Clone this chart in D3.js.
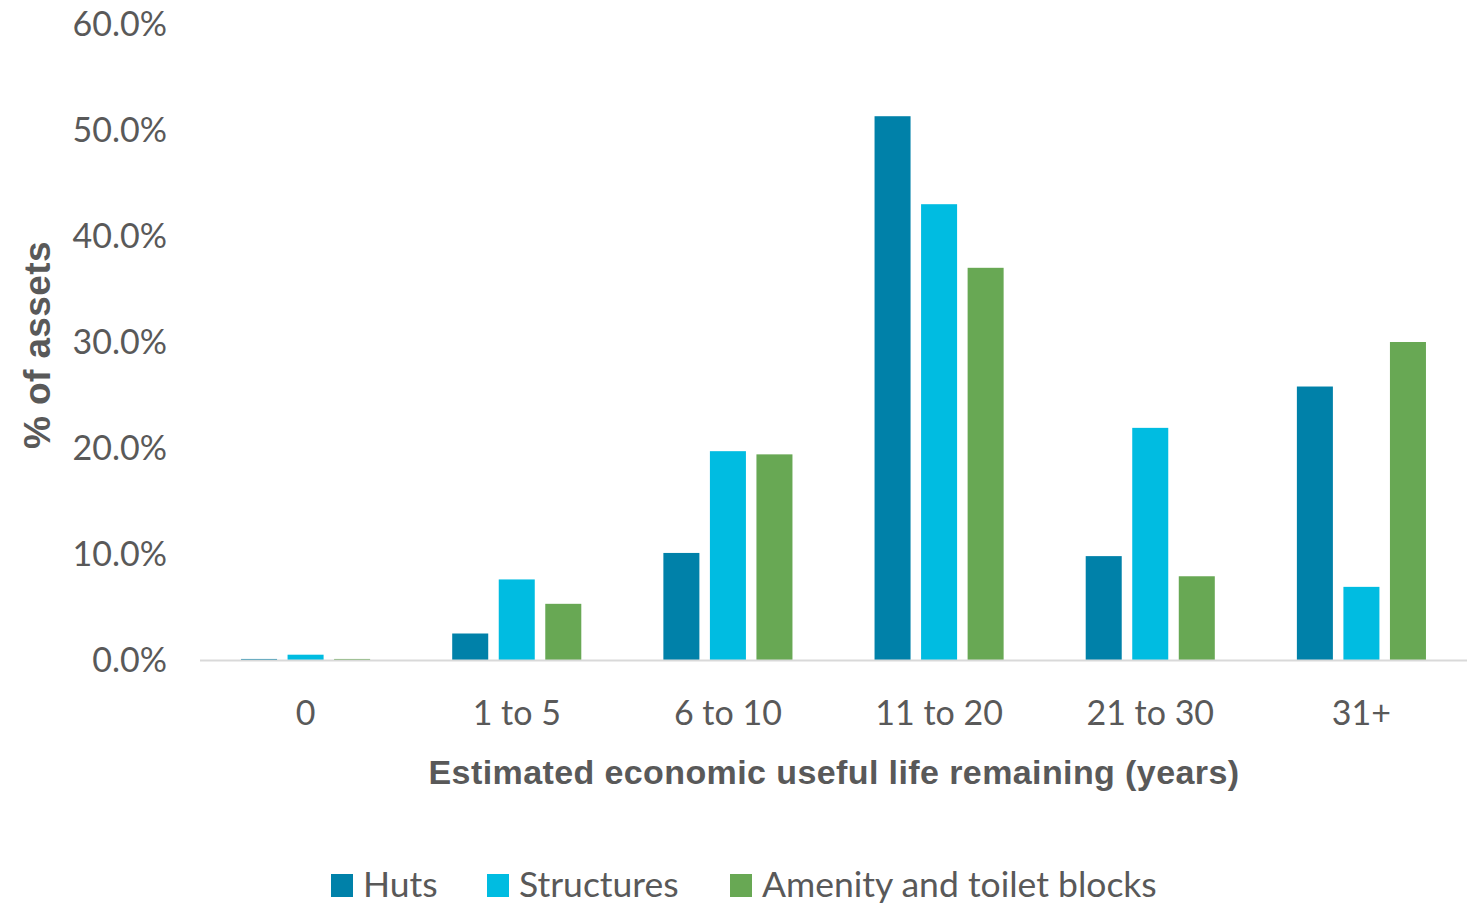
<!DOCTYPE html>
<html>
<head>
<meta charset="utf-8">
<script src="https://cdn.jsdelivr.net/npm/d3@7"></script>
<style>
  html, body { margin: 0; padding: 0; background: #fff; }
  svg { display: block; }
</style>
</head>
<body>
<svg id="chart" width="1483" height="905"></svg>
<script>
// Remaining useful life bands and share of assets per asset type
const categories = ["0", "1 to 5", "6 to 10", "11 to 20", "21 to 30", "31+"];
const seriesNames = ["Huts", "Structures", "Amenity and toilet blocks"];
const huts       = [0.001, 0.025, 0.101, 0.513, 0.098, 0.258];
const structures = [0.005, 0.076, 0.197, 0.430, 0.219, 0.069];
const amenity    = [0.001, 0.053, 0.194, 0.370, 0.079, 0.300];
const yTicks = [0, 0.1, 0.2, 0.3, 0.4, 0.5, 0.6];
const colors = ["#0081A9", "#00BCE1", "#68A854"];

const seriesValues = [huts, structures, amenity];
const rows = categories.map((c, i) => ({
  category: c,
  values: seriesNames.map((s, j) => ({ series: s, value: seriesValues[j][i] }))
}));

const svg = d3.select("#chart");
const textColor = "#595959";
const tickFont = "Lato, 'Open Sans', sans-serif";

const x0 = d3.scaleBand().domain(categories).range([200, 1467]).padding(0);
const x1 = d3.scaleBand().domain(seriesNames).range([0, x0.bandwidth()])
  .paddingInner(0.226).paddingOuter(0.882);
const y = d3.scaleLinear().domain([0, 0.6]).range([660, 24]);
const color = d3.scaleOrdinal().domain(seriesNames).range(colors);

// Y axis labels (no axis line, no tick marks)
const yAxis = d3.axisLeft(y).tickValues(yTicks).tickFormat(d3.format(".1%")).tickSize(0).tickPadding(33);
const gy = svg.append("g").attr("transform", "translate(200,1)").call(yAxis);
gy.select(".domain").remove();
gy.selectAll("text")
  .attr("fill", textColor)
  .style("font-family", tickFont)
  .style("font-size", "34px");

// Bars
const groups = svg.append("g").selectAll("g")
  .data(rows).join("g")
  .attr("transform", d => `translate(${x0(d.category)},0)`);
groups.selectAll("rect")
  .data(d => d.values).join("rect")
  .attr("x", d => x1(d.series))
  .attr("width", x1.bandwidth())
  .attr("y", d => y(d.value))
  .attr("height", d => y(0) - y(d.value))
  .attr("fill", d => color(d.series));

// Baseline
svg.append("line")
  .attr("x1", 200).attr("x2", 1467)
  .attr("y1", y(0) + 0.5).attr("y2", y(0) + 0.5)
  .attr("stroke", "#d9d9d9").attr("stroke-width", 2);

// X axis category labels
const xAxis = d3.axisBottom(x0).tickSize(0).tickPadding(41);
const gx = svg.append("g").attr("transform", `translate(0,${y(0)})`).call(xAxis);
gx.select(".domain").remove();
gx.selectAll("text")
  .attr("fill", textColor)
  .style("font-family", tickFont)
  .style("font-size", "34px");

// Axis titles
svg.append("text")
  .attr("x", 834).attr("y", 784)
  .attr("text-anchor", "middle")
  .attr("fill", textColor)
  .style("font-family", "'Liberation Sans', Arial, sans-serif")
  .style("font-weight", "bold")
  .style("font-size", "34px")
  .style("letter-spacing", "0.4px")
  .text("Estimated economic useful life remaining (years)");

svg.append("text")
  .attr("transform", "translate(50,345) rotate(-90)")
  .attr("text-anchor", "middle")
  .attr("fill", textColor)
  .style("font-family", "'Liberation Sans', Arial, sans-serif")
  .style("font-weight", "bold")
  .style("font-size", "37px")
  .style("letter-spacing", "0.4px")
  .text("% of assets");

// Legend
const legendX = [331, 487, 730];
const legend = svg.append("g").selectAll("g")
  .data(seriesNames).join("g")
  .attr("transform", (d, i) => `translate(${legendX[i]},874)`);
legend.append("rect")
  .attr("width", 22).attr("height", 23)
  .attr("fill", d => color(d));
legend.append("text")
  .attr("x", 32).attr("y", 23)
  .attr("fill", textColor)
  .style("font-family", tickFont)
  .style("font-size", "35.5px")
  .text(d => d);
</script>
</body>
</html>
